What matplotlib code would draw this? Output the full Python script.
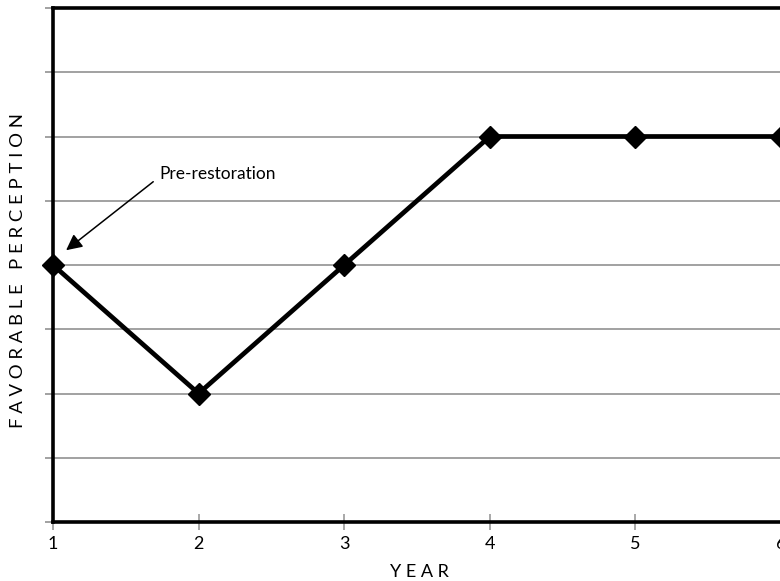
import matplotlib.pyplot as plt

# data
years = [1, 2, 3, 4, 5, 6]
perception = [4, 2, 4, 6, 6, 6]
year_labels = ["1", "2", "3", "4", "5", "6"]

plt.rcParams['font.family'] = ['Lato', 'DejaVu Sans']

fig = plt.figure(figsize=(7.8, 5.81), dpi=100)
ax = fig.add_axes([53 / 780, 1 - 522 / 581, 728 / 780, 514 / 581])

ax.plot(years, perception, color='black', linewidth=3.4, marker='D',
        markersize=11, zorder=5, clip_on=False)

ax.set_xlim(1, 6)
ax.set_ylim(0, 8)
ax.set_xticks(years)
ax.set_xticklabels(year_labels, fontsize=13)
ax.set_yticks(range(0, 9))
ax.set_yticklabels([])
ax.yaxis.grid(True, color='#9a9a9a', linewidth=1.3)
ax.set_axisbelow(True)

ax.tick_params(axis='x', direction='inout', length=12, width=1.2,
               color='#9a9a9a', pad=4)
ax.tick_params(axis='y', direction='out', length=6, width=1.3,
               color='#9a9a9a')

for side in ['left', 'top', 'bottom']:
    ax.spines[side].set_linewidth(2.6)
    ax.spines[side].set_color('black')
ax.spines['right'].set_visible(False)

ax.set_xlabel("Y E A R", fontsize=13)
ax.xaxis.set_label_coords(0.504, -0.097)
ax.set_ylabel("F A V O R A B L E   P E R C E P T I O N", fontsize=13.3)
ax.yaxis.set_label_coords(-0.048, 0.49)
ax.yaxis.label.set_va('center')
ax.xaxis.label.set_va('center')

ax.annotate("Pre-restoration", xy=(1.09, 4.23), xytext=(1.73, 5.42),
            fontsize=12.5, va='center', ha='left',
            arrowprops=dict(arrowstyle='-|>', color='black', lw=1.1,
                            mutation_scale=24, shrinkA=3, shrinkB=0,
                            relpos=(0, 0.3)))

fig.savefig("out.png", dpi=100)
